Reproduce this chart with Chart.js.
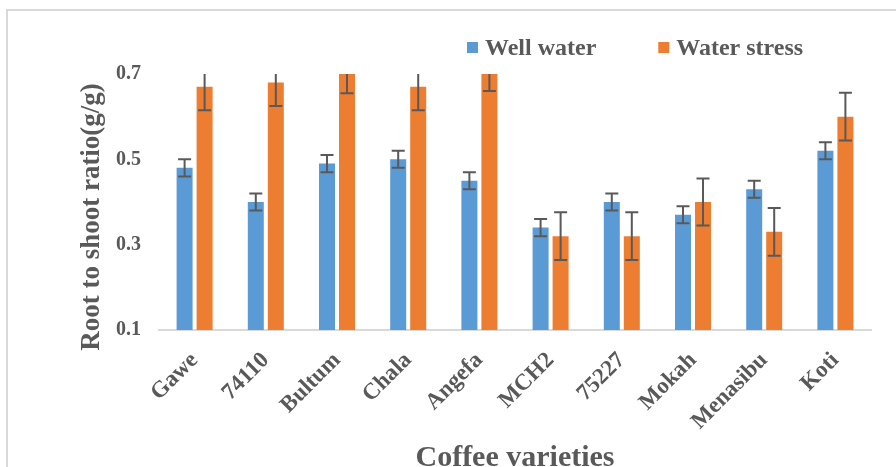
<!DOCTYPE html>
<html>
<head>
<meta charset="utf-8">
<script src="https://cdn.jsdelivr.net/npm/chart.js@4/dist/chart.umd.min.js"></script>
<style>
  html, body { margin: 0; padding: 0; background: #ffffff; overflow: hidden; }
  #wrap { position: relative; width: 896px; height: 467px; }
  #frame { position: absolute; left: 6px; top: 9px; width: 1000px; height: 600px;
           border: 2px solid #d9d9d9; box-sizing: border-box; }
  #chart { position: absolute; left: 0; top: 0; }
</style>
</head>
<body>
<div id="wrap">
  <div id="frame"></div>
  <canvas id="chart" width="896" height="467"></canvas>
</div>
<script>
// Coffee varieties and root-to-shoot ratios (g/g)
const varieties = ['Gawe', '74110', 'Bultum', 'Chala', 'Angefa', 'MCH2', '75227', 'Mokah', 'Menasibu', 'Koti'];
const wellWater = [0.48, 0.40, 0.49, 0.50, 0.45, 0.34, 0.40, 0.37, 0.43, 0.52];
const wellWaterErr = [0.02, 0.02, 0.02, 0.02, 0.02, 0.02, 0.02, 0.02, 0.02, 0.02];
const waterStress = [0.67, 0.68, 0.71, 0.67, 0.715, 0.32, 0.32, 0.40, 0.33, 0.60];
const waterStressErr = [0.055, 0.055, 0.055, 0.055, 0.055, 0.056, 0.056, 0.055, 0.056, 0.056];
const yTicks = [0.1, 0.3, 0.5, 0.7];
const yTitle = 'Root to shoot ratio(g/g)';

const FONT = '"Liberation Serif", "Times New Roman", serif';
const TEXT = '#595959';

// Vertical error bars with caps on every bar, clipped to the plot area
const errorBars = {
  id: 'errorBars',
  afterDatasetsDraw(chart) {
    const { ctx, chartArea, scales } = chart;
    const y = scales.y;
    ctx.save();
    ctx.beginPath();
    ctx.rect(chartArea.left, chartArea.top, chartArea.right - chartArea.left, chartArea.bottom - chartArea.top);
    ctx.clip();
    ctx.strokeStyle = '#595959';
    ctx.lineWidth = 2;
    chart.data.datasets.forEach((ds, di) => {
      const meta = chart.getDatasetMeta(di);
      meta.data.forEach((bar, i) => {
        const v = ds.data[i], e = ds.errors[i];
        const yt = y.getPixelForValue(v + e);
        const yb = y.getPixelForValue(v - e);
        const cap = 6.5;
        ctx.beginPath();
        ctx.moveTo(bar.x, yt); ctx.lineTo(bar.x, yb);
        ctx.moveTo(bar.x - cap, yt); ctx.lineTo(bar.x + cap, yt);
        ctx.moveTo(bar.x - cap, yb); ctx.lineTo(bar.x + cap, yb);
        ctx.stroke();
      });
    });
    ctx.restore();
  }
};

// Legend above the plot, right of centre
const customLegend = {
  id: 'customLegend',
  afterDraw(chart) {
    const { ctx } = chart;
    ctx.save();
    ctx.font = 'bold 24px ' + FONT;
    ctx.textBaseline = 'middle';
    let x = 467;
    const yMid = 47.5;
    chart.data.datasets.forEach((ds) => {
      ctx.fillStyle = ds.backgroundColor;
      ctx.fillRect(x, yMid - 5.5, 11, 11);
      ctx.fillStyle = TEXT;
      ctx.fillText(ds.label, x + 18, yMid + 1);
      x += 18 + ctx.measureText(ds.label).width + 62;
    });
    ctx.restore();
  }
};

// Rotated y-axis title, set a little below the plot's vertical centre
const yAxisTitle = {
  id: 'yAxisTitle',
  afterDraw(chart) {
    const { ctx, chartArea } = chart;
    ctx.save();
    ctx.font = 'bold 27px ' + FONT;
    ctx.fillStyle = TEXT;
    ctx.textAlign = 'center';
    ctx.textBaseline = 'middle';
    ctx.translate(chartArea.left - 67, (chartArea.top + chartArea.bottom) / 2 + 15);
    ctx.rotate(-Math.PI / 2);
    ctx.fillText(yTitle, 0, 0);
    ctx.restore();
  }
};

new Chart(document.getElementById('chart'), {
  type: 'bar',
  data: {
    labels: varieties,
    datasets: [
      { label: 'Well water', data: wellWater, errors: wellWaterErr,
        backgroundColor: '#5b9bd5', categoryPercentage: 0.562, barPercentage: 0.8 },
      { label: 'Water stress', data: waterStress, errors: waterStressErr,
        backgroundColor: '#ed7d31', categoryPercentage: 0.562, barPercentage: 0.8 }
    ]
  },
  options: {
    responsive: false,
    animation: false,
    layout: { padding: { left: 80, right: 25, top: 74, bottom: 0 } },
    plugins: { legend: { display: false }, tooltip: { enabled: false } },
    scales: {
      x: {
        grid: { display: false },
        border: { display: true, color: '#d9d9d9', width: 2 },
        ticks: { color: TEXT, font: { family: FONT, size: 23, weight: 'bold' },
                 minRotation: 45, maxRotation: 45, padding: 9 },
        title: { display: true, text: 'Coffee varieties', color: TEXT,
                 font: { family: FONT, size: 30, weight: 'bold' }, padding: { top: 0, bottom: -9 } },
        afterFit(scale) { scale.height = 137; }
      },
      y: {
        min: 0.1, max: 0.7,
        grid: { display: false },
        border: { display: false },
        afterBuildTicks(scale) { scale.ticks = yTicks.map(v => ({ value: v })); },
        ticks: { color: TEXT, font: { family: FONT, size: 20, weight: 'bold' }, padding: 10,
                 callback: v => Number(v).toFixed(1) },
        afterFit(scale) { scale.width = 79; }
      }
    }
  },
  plugins: [errorBars, customLegend, yAxisTitle]
});
</script>
</body>
</html>
